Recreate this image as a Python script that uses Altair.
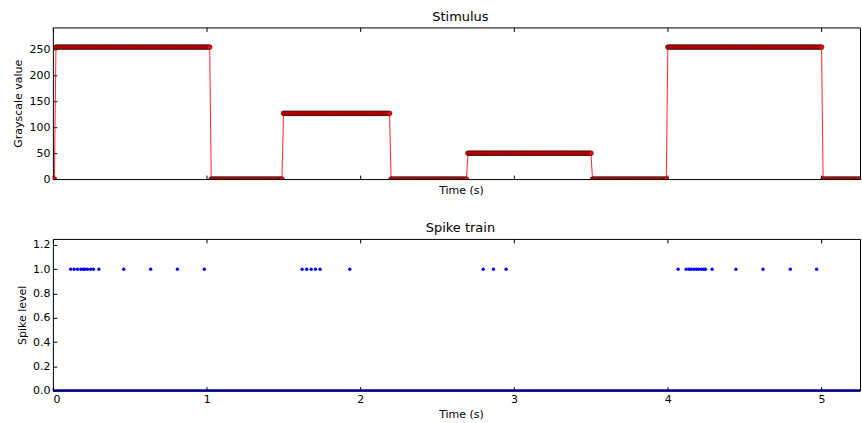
import altair as alt
import pandas as pd

# ---- Stimulus: piecewise-constant grayscale levels
seg_start = [0.00, 0.02, 1.03, 1.50, 2.20, 2.70, 3.51, 4.00, 5.01]
seg_end   = [0.01, 1.02, 1.49, 2.19, 2.69, 3.50, 3.99, 5.00, 5.25]
seg_level = [0,    255,  0,    127,  0,    50,   0,    255,  0]
dt = 0.01

# ---- Spike times (s) where spike level = 1
spike_times = [0.115, 0.138, 0.160, 0.182, 0.197, 0.208, 0.225, 0.245, 0.264,
               0.299, 0.461, 0.636, 0.810, 0.985,
               1.621, 1.651, 1.680, 1.708, 1.738, 1.931,
               2.799, 2.866, 2.948,
               4.067, 4.119, 4.136, 4.151, 4.169, 4.186, 4.201, 4.219, 4.234,
               4.245, 4.288, 4.443, 4.619, 4.797, 4.968]
spike_level = 1.0
rest_level = [0.0]

x_ticks = [0, 1, 2, 3, 4, 5]
y_ticks_top = [0, 50, 100, 150, 200, 250]
y_ticks_bot = [0.0, 0.2, 0.4, 0.6, 0.8, 1.0, 1.2]

rows = []
for s, e, lv in zip(seg_start, seg_end, seg_level):
    n = int(round((e - s) / dt)) + 1
    for k in range(n):
        rows.append({"t": round(s + k * dt, 4), "v": lv})
stim = pd.DataFrame(rows)
spk = pd.DataFrame({"t": spike_times, "level": [spike_level] * len(spike_times)})
rest = pd.DataFrame({"level": rest_level})

FONT = "DejaVu Sans"
W, H = 809, 152
x_scale = alt.Scale(domain=[0, 5.25], nice=False, zero=False)


def x_axis_bottom(labels):
    return alt.Axis(orient="bottom", values=x_ticks, offset=-4, tickSize=4, domain=False,
                    grid=False, labels=labels, labelPadding=3, format="d",
                    title="Time (s)", titlePadding=5 if not labels else 4, titleX=409)


x_axis_top = alt.Axis(orient="top", values=x_ticks, offset=-4, tickSize=4, domain=False,
                      grid=False, labels=False, title=None)

y_axis_top = alt.Axis(values=y_ticks_top, offset=-4, tickSize=4, domain=False, grid=False,
                      labelPadding=3, title="Grayscale value", titlePadding=5)
y_axis_bot = alt.Axis(values=y_ticks_bot, offset=-4, tickSize=4, domain=False, grid=False,
                      labelPadding=3, format=".1f", title="Spike level", titlePadding=5)
y_scale_top = alt.Scale(domain=[0, 293], nice=False)
y_scale_bot = alt.Scale(domain=[0, 1.25], nice=False)

top_line = alt.Chart(stim).mark_line(color="red", strokeWidth=1, opacity=0.85, clip=True).encode(
    x=alt.X("t:Q", scale=x_scale, axis=x_axis_bottom(False)),
    y=alt.Y("v:Q", scale=y_scale_top, axis=y_axis_top),
)
top_pts = alt.Chart(stim).mark_point(filled=True, fill="red", stroke="black", strokeWidth=0.5,
                                     size=24, opacity=1, clip=True).encode(
    x=alt.X("t:Q", scale=x_scale, axis=x_axis_top),
    y=alt.Y("v:Q", scale=y_scale_top, axis=y_axis_top),
)
top = alt.layer(top_line, top_pts).resolve_axis(x="independent").properties(
    width=W, height=H,
    title=alt.TitleParams("Stimulus", fontSize=13, dx=4, offset=3),
)

bot_rest = alt.Chart(rest).mark_rule(color="#00008a", strokeWidth=2.5).encode(
    y=alt.Y("level:Q", scale=y_scale_bot, axis=y_axis_bot),
)
bot_pts = alt.Chart(spk).mark_circle(color="blue", size=11, opacity=1, clip=True).encode(
    x=alt.X("t:Q", scale=x_scale, axis=x_axis_bottom(True)),
    y=alt.Y("level:Q", scale=y_scale_bot, axis=y_axis_bot),
)
bot_top_axis = alt.Chart(spk).mark_circle(opacity=0, size=1).encode(
    x=alt.X("t:Q", scale=x_scale, axis=x_axis_top),
    y=alt.Y("level:Q", scale=y_scale_bot, axis=y_axis_bot),
)
bottom = alt.layer(bot_rest, bot_pts, bot_top_axis).resolve_axis(x="independent").properties(
    width=W, height=H,
    title=alt.TitleParams("Spike train", fontSize=13, dx=4, offset=3),
)

chart = alt.vconcat(top, bottom, spacing=26).properties(
    padding={"left": 12, "top": 10, "right": 0, "bottom": 0}
).configure(font=FONT).configure_axis(
    labelFont=FONT, titleFont=FONT, labelFontSize=11, titleFontSize=11,
    titleFontWeight="normal", labelColor="black", titleColor="black", tickColor="black",
).configure_view(stroke="black", strokeWidth=1).configure_title(
    font=FONT, fontSize=13, fontWeight="normal", color="black", anchor="middle"
)

chart.save("out.html", embed_options={"renderer": "svg", "actions": False})
